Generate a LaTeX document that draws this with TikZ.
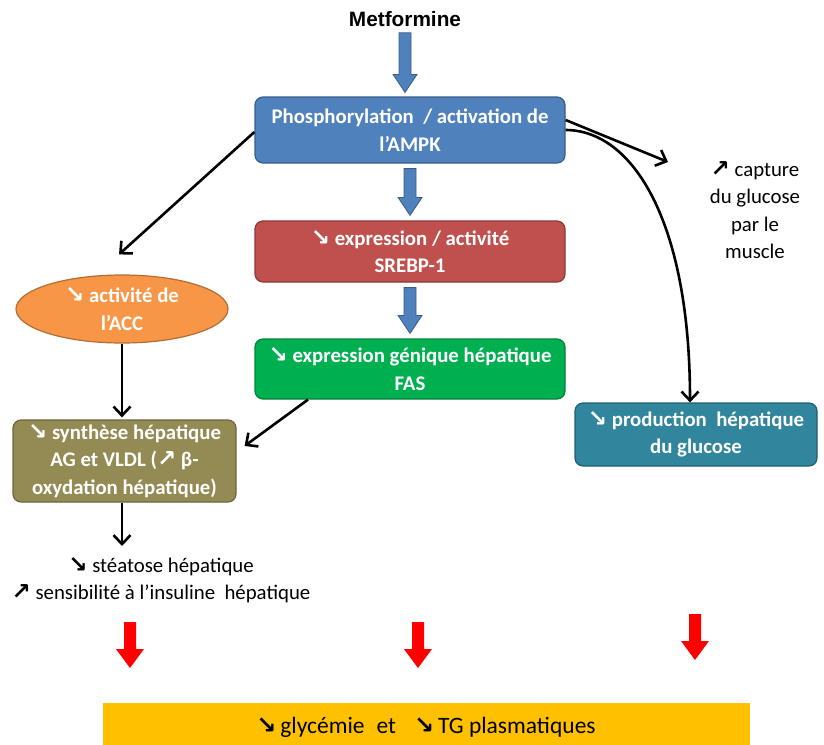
\documentclass[tikz,border=0pt]{standalone}
\usepackage{fontspec}
\setmainfont{Carlito}
\newfontfamily\symf{DejaVu Sans}
\newfontfamily\arialf{Liberation Sans}
\usetikzlibrary{arrows.meta,shapes.geometric,calc}
\newcommand{\dnar}{{\symf\bfseries\fontsize{23}{18}\selectfont ↘}}
\newcommand{\upar}{{\symf\bfseries\fontsize{23}{18}\selectfont ↗}}
\definecolor{ampkfill}{HTML}{4F81BD}
\definecolor{ampkline}{HTML}{385D8A}
\definecolor{srebfill}{HTML}{C0504D}
\definecolor{srebline}{HTML}{8C3836}
\definecolor{fasfill}{HTML}{00B050}
\definecolor{fasline}{HTML}{00823B}
\definecolor{accfill}{HTML}{F79646}
\definecolor{accline}{HTML}{B66D31}
\definecolor{synfill}{HTML}{948A54}
\definecolor{synline}{HTML}{6D653D}
\definecolor{prodfill}{HTML}{31859C}
\definecolor{prodline}{HTML}{235F6F}
\definecolor{yellowbar}{HTML}{FFC000}
\definecolor{redarr}{HTML}{FF0000}
\tikzset{
  boxnode/.style={rounded corners=8pt, line width=1.2pt, align=center, text=white,
    font=\bfseries\fontsize{20.8}{27.5}\selectfont, inner sep=0pt},
  plaintext/.style={align=center, text=black, font=\fontsize{20.8}{27.5}\selectfont, inner sep=0pt},
  conn/.style={line width=2.6pt, -{Straight Barb[length=9pt,width=17pt,line width=2.6pt]}},
  fatblue/.style={fill=ampkfill, draw=ampkline, line width=0.8pt},
  fatred/.style={fill=redarr, draw=none}
}
\begin{document}
\begin{tikzpicture}[x=1pt,y=-1pt]
\useasboundingbox (0,0) rectangle (824,744);
\fill[white] (0,0) rectangle (824,744);

% title
\node[inner sep=0pt, font=\arialf\bfseries\fontsize{20.8}{24}\selectfont] (met) at (405,19) {Metformine};

% boxes
\node[boxnode, fill=ampkfill, draw=ampkline, minimum width=310pt, minimum height=66pt] (ampk) at (410,130)
  {Phosphorylation~ / activation de\\l’AMPK};
\node[boxnode, fill=srebfill, draw=srebline, minimum width=310pt, minimum height=61pt] (sreb) at (410,251.5)
  {\dnar\ expression / activité\\SREBP-1};
\node[boxnode, fill=fasfill, draw=fasline, minimum width=310pt, minimum height=60pt] (fas) at (410,369)
  {\dnar\ expression génique hépatique\\FAS};
\node[boxnode, ellipse, fill=accfill, draw=accline, minimum width=212pt, minimum height=68pt, inner sep=-10pt] (acc) at (122,309)
  {\dnar\ activité de\\l’ACC};
\node[boxnode, fill=synfill, draw=synline, minimum width=223pt, minimum height=82pt] (syn) at (124.5,461)
  {\dnar\ synthèse hépatique\\AG et VLDL (\upar\ β-\\oxydation hépatique)};
\node[boxnode, fill=prodfill, draw=prodline, minimum width=242pt, minimum height=63pt] (prod) at (696,434.5)
  {\dnar\ production~ hépatique\\du glucose};

% plain texts
\node[plaintext] (capt) at (755,210) {\upar\ capture\\du glucose\\par le\\muscle};
\node[plaintext] (steat) at (161,580) {\dnar\ stéatose hépatique\\\upar\ sensibilité à l’insuline~ hépatique};

% yellow bar
\node[fill=yellowbar, minimum width=647pt, minimum height=50pt, inner sep=0pt, anchor=north west] (bar) at (103,703) {};
\node[plaintext, font=\fontsize{23.5}{26}\selectfont, anchor=base] (bartxt) at (426,733)
  {{\symf\bfseries\fontsize{24}{20}\selectfont ↘}\,glycémie\hspace{12pt}et\hspace{18pt}{\symf\bfseries\fontsize{24}{20}\selectfont ↘}\,TG plasmatiques};

% fat blue arrows
\path (met.south) ++(0,6) coordinate (b1s);
\path (ampk.north) ++(0,-4) coordinate (b1e);
\path (ampk.south) ++(0,5) coordinate (b2s);
\path (sreb.north) ++(0,-5) coordinate (b2e);
\path (sreb.south) ++(0,5) coordinate (b3s);
\path (fas.north) ++(0,-5) coordinate (b3e);
\foreach \s/\e in {b1s/b1e, b2s/b2e, b3s/b3e}{
  \draw[fatblue] let \p1=(\s), \p2=(\e) in
    (\x1-6,\y1) -- (\x1+6,\y1) -- (\x1+6,\y2+18) -- (\x1+12,\y2+18) -- (\x1,\y2)
    -- (\x1-12,\y2+18) -- (\x1-6,\y2+18) -- cycle;
}

% red arrows
\coordinate (r1) at (130,622);
\coordinate (r2) at (418,622);
\coordinate (r3) at (695,614);
\foreach \c in {r1,r2,r3}{
  \fill[fatred] let \p1=(\c) in
    (\x1-6,\y1) -- (\x1+6,\y1) -- (\x1+6,\y1-27) -- (\x1+14,\y1-27) -- (\x1,\y1-46)
    -- (\x1-14,\y1-27) -- (\x1-6,\y1-27) -- cycle;
}

% connectors
\coordinate (captend) at (668,162);
\coordinate (steatend) at (122,546);
\draw[conn] ([yshift=-2pt]ampk.west) -- ([xshift=-3pt,yshift=20pt]acc.north);
\draw[conn] ([yshift=10pt]ampk.east) -- (captend);
\draw[conn] (ampk.east) .. controls (632,130) and (690,220) .. ([xshift=-6pt]prod.north);
\draw[conn] (acc.south) -- ([yshift=2pt]acc.south |- syn.north);
\draw[conn] ([xshift=-102pt]fas.south) -- ([xshift=8pt,yshift=15pt]syn.east);
\draw[conn] (acc.south |- syn.south) -- (steatend);
\end{tikzpicture}
\end{document}
